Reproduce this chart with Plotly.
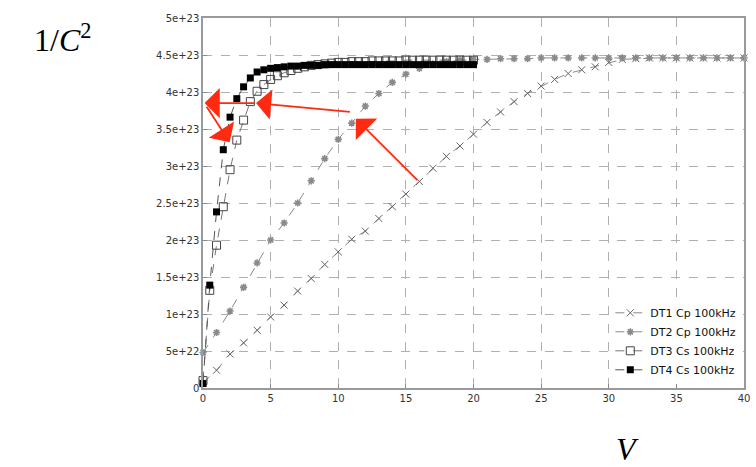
import plotly.graph_objects as go

# Bias voltage (V) and 1/C^2 values in units of 1e23
v_cp = list(range(0, 41))
dt1_cp = [0.07, 0.24, 0.46, 0.61, 0.78, 0.96, 1.12, 1.31, 1.48, 1.67,
          1.84, 2.01, 2.12, 2.29, 2.45, 2.62, 2.79, 2.97, 3.13, 3.27,
          3.43, 3.59, 3.73, 3.87, 3.98, 4.08, 4.17, 4.25, 4.30, 4.34,
          4.40, 4.44, 4.45, 4.46, 4.46, 4.46, 4.46, 4.46, 4.46, 4.46, 4.46]
dt2_cp = [0.48, 0.75, 1.04, 1.36, 1.69, 2.00, 2.23, 2.50, 2.80, 3.10,
          3.36, 3.58, 3.81, 3.98, 4.13, 4.24, 4.32, 4.38, 4.41, 4.43,
          4.44, 4.44, 4.45, 4.45, 4.45, 4.46, 4.46, 4.46, 4.46, 4.46,
          4.46, 4.46, 4.46, 4.46, 4.46, 4.46, 4.46, 4.46, 4.46, 4.46, 4.46]

v_cs = [i * 0.5 for i in range(0, 41)]
dt3_cs = [0.10, 1.32, 1.93, 2.45, 2.95, 3.35, 3.62, 3.87, 4.01, 4.10,
          4.17, 4.22, 4.26, 4.29, 4.32, 4.34, 4.36, 4.37, 4.38, 4.39,
          4.40, 4.40, 4.41, 4.41, 4.41, 4.42, 4.42, 4.42, 4.42, 4.42,
          4.43, 4.43, 4.43, 4.43, 4.43, 4.43, 4.43, 4.43, 4.43, 4.43, 4.43]
dt4_cs = [0.06, 1.39, 2.38, 3.22, 3.66, 3.91, 4.07, 4.19, 4.27, 4.30,
          4.32, 4.33, 4.34, 4.35, 4.35, 4.36, 4.36, 4.36, 4.37, 4.37,
          4.37, 4.37, 4.37, 4.37, 4.37, 4.37, 4.37, 4.37, 4.37, 4.37,
          4.37, 4.37, 4.37, 4.37, 4.37, 4.37, 4.37, 4.37, 4.37, 4.37, 4.37]

series_names = ["DT1 Cp 100kHz", "DT2 Cp 100kHz", "DT3 Cs 100kHz", "DT4 Cs 100kHz"]

x_ticks = [0, 5, 10, 15, 20, 25, 30, 35, 40]
y_tick_units = [0, 0.5, 1, 1.5, 2, 2.5, 3, 3.5, 4, 4.5, 5]
y_tick_text = ["0", "5e+22", "1e+23", "1.5e+23", "2e+23", "2.5e+23",
               "3e+23", "3.5e+23", "4e+23", "4.5e+23", "5e+23"]

# Red arrows (tail V, tail y, head V, head y), y in units of 1e23
arrows = [
    (15.96, 2.79, 11.3, 3.64),
    (10.97, 3.73, 3.92, 3.85),
    (3.92, 3.85, 0.12, 3.85),
    (0.20, 3.82, 1.97, 3.32),
]

E = 1e23
scale = lambda arr: [a * E for a in arr]

fig = go.Figure()

fig.add_trace(go.Scatter(
    x=v_cp, y=scale(dt1_cp), name=series_names[0], mode="lines+markers",
    line=dict(color="#8a8a8a", width=1, dash="dash"),
    marker=dict(symbol="x-thin", size=7, line=dict(color="#666666", width=1)),
    cliponaxis=False))
fig.add_trace(go.Scatter(
    x=v_cp, y=scale(dt2_cp), name=series_names[1], mode="lines+markers",
    line=dict(color="#8a8a8a", width=1, dash="dash"),
    marker=dict(symbol="asterisk-open", size=6, line=dict(color="#333333", width=1.6)),
    cliponaxis=False))
fig.add_trace(go.Scatter(
    x=v_cs, y=scale(dt3_cs), name=series_names[2], mode="lines+markers",
    line=dict(color="#777777", width=1, dash="dash"),
    marker=dict(symbol="square-open", size=8, color="#444444",
                line=dict(color="#444444", width=1)),
    cliponaxis=False))
fig.add_trace(go.Scatter(
    x=v_cs, y=scale(dt4_cs), name=series_names[3], mode="lines+markers",
    line=dict(color="#555555", width=1, dash="dash"),
    marker=dict(symbol="square", size=7, color="#000000"),
    cliponaxis=False))

annotations = []
for tx, ty, hx, hy in arrows:
    annotations.append(dict(
        x=hx, y=hy * E, ax=tx, ay=ty * E, xref="x", yref="y", axref="x", ayref="y",
        text="", showarrow=True, arrowhead=1, arrowsize=2.8, arrowwidth=1.8,
        arrowcolor="#ff2a10", standoff=0, startstandoff=0))

annotations.append(dict(
    x=-0.26, y=0.945, xref="paper", yref="paper", showarrow=False,
    text="1/<i>C</i><sup>2</sup>", font=dict(family="Liberation Serif", size=32, color="#000"),
    xanchor="center", yanchor="middle"))
annotations.append(dict(
    x=0.784, y=-0.165, xref="paper", yref="paper", showarrow=False,
    text="<i>V</i>", font=dict(family="Liberation Serif", size=32, color="#000"),
    xanchor="center", yanchor="middle"))

axis_common = dict(
    showline=True, mirror=True, linecolor="#9a9a9a", linewidth=1.5,
    showgrid=True, gridcolor="#b0b0b0", griddash="dash", gridwidth=1,
    ticks="inside", ticklen=4, tickcolor="#888", zeroline=False,
    tickfont=dict(family="DejaVu Sans", size=10, color="#333"))

fig.update_layout(
    width=756, height=467,
    margin=dict(l=203, r=6, t=18, b=79),
    paper_bgcolor="white", plot_bgcolor="white",
    showlegend=True,
    legend=dict(x=0.995, y=0.01, xanchor="right", yanchor="bottom",
                bgcolor="white", borderwidth=0, tracegroupgap=0,
                font=dict(family="DejaVu Sans", size=11, color="#111")),
    annotations=annotations,
    xaxis=dict(range=[0, 40], tickvals=x_ticks, **axis_common),
    yaxis=dict(range=[0, 5 * E], tickvals=[t * E for t in y_tick_units],
               ticktext=y_tick_text, **axis_common),
)

fig.write_html("out.html")
